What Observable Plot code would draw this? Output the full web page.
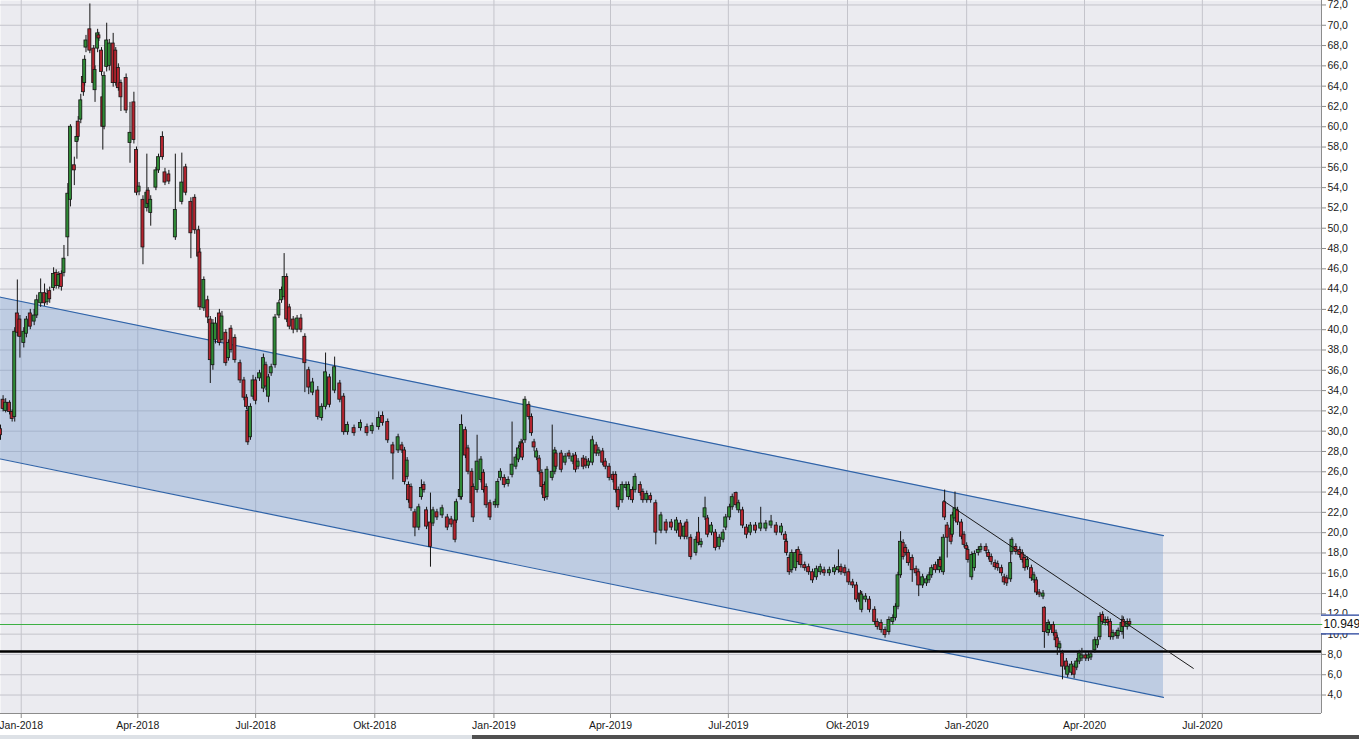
<!DOCTYPE html>
<html><head><meta charset="utf-8">
<script src="https://cdn.jsdelivr.net/npm/d3@7"></script>
<script src="https://cdn.jsdelivr.net/npm/@observablehq/plot@0.6"></script>
<style>
html,body{margin:0;padding:0;background:#fff;overflow:hidden}
#chart svg{display:block}
.scroll{display:flex;height:4px;width:1359px}
.scroll .track{width:472px;background:#dde1e6}
.scroll .thumb{flex:1;background:#505050}
</style></head><body>
<div id="chart"></div>
<div class="scroll"><div class="track"></div><div class="thumb"></div></div>
<script>
// [day offset from 2018-01-01, open, high, low, close]
const ohlc2018q1 = [
[-16,30.2,30.6,29.1,29.6],[-14,33.1,33.5,31.9,32.2],[-12,32.0,33.2,31.8,32.8],[-9,32.8,33.0,31.6,31.9],
[-7,31.9,32.1,30.9,31.2],[-5,31.4,40.2,30.9,39.8],[-3,41.6,44.9,39.3,39.7],[-1,41.0,41.4,37.2,39.3],
[2,38.7,40.2,38.2,39.8],[4,39.6,41.3,39.2,41.0],[7,41.6,42.0,40.0,40.3],[10,40.8,42.0,40.4,41.4],
[12,41.4,43.4,41.1,42.9],[15,42.6,45.0,42.2,43.6],[18,43.6,44.5,42.3,42.6],[20,42.7,44.0,42.4,43.5],
[22,43.8,44.2,42.6,43.0],[25,44.1,46.1,43.8,45.5],[27,45.6,45.9,44.0,44.3],[29,44.3,45.7,44.0,45.4],
[31,45.5,45.8,43.8,44.2],[33,45.6,48.3,45.2,47.0],[36,49.1,54.4,47.2,53.4],[38,52.8,60.2,52.1,60.0],
[41,56.2,57.0,54.2,55.7],[43,58.5,60.3,56.8,59.0],[44,60.5,61.0,58.6,59.0],[46,60.7,63.2,60.3,62.6],
[48,64.9,65.2,63.0,63.4],[49,64.3,67.0,64.0,66.6],[50,67.8,69.0,67.3,68.5],[53,69.6,72.1,67.2,67.5],
[56,67.7,68.0,63.9,64.3],[57,63.6,66.0,62.4,65.6],[59,67.7,69.6,67.3,69.2],[60,69.0,69.3,68.4,68.7],
[62,67.5,67.8,65.0,65.4],[63,62.9,63.3,57.7,60.0],[64,60.0,65.4,59.7,65.0],[66,65.9,70.2,65.4,68.5],
[68,66.0,68.6,65.5,68.2],[71,68.2,69.2,63.9,64.3],[73,67.5,67.8,64.0,64.3],[75,65.8,66.2,63.5,63.8],
[77,64.3,64.6,61.5,62.9],[81,64.8,65.2,61.3,61.6],[84,58.4,62.4,56.4,59.4],[87,62.4,63.4,58.3,58.7],
[89,57.7,58.0,53.2,53.5]
];
const ohlc2018q2 = [
[91,53.6,54.5,53.2,54.1],[94,52.8,53.2,46.4,48.1],[97,52.0,57.3,51.6,53.5],[98,53.7,54.0,52.0,52.4],
[100,51.5,53.2,50.2,52.8],[104,54.0,56.0,53.7,55.7],[106,55.7,57.3,55.4,57.0],[109,59.0,59.5,56.7,57.0],
[111,55.5,55.9,54.2,54.5],[114,55.3,55.7,54.3,54.6],[119,49.1,57.3,48.8,51.8],[124,52.6,57.4,52.3,54.5],
[127,56.0,56.3,53.2,53.5],[131,52.6,53.0,47.0,49.5],[134,53.0,53.3,49.4,49.8],[137,49.8,50.2,46.8,47.2],
[138,47.6,48.0,41.9,42.2],[141,42.1,45.2,41.8,44.9],[144,42.9,43.3,40.6,41.2],[146,41.0,41.3,34.7,37.0],
[148,36.5,41.0,36.0,40.6],[150,39.0,41.2,38.6,40.6],[153,41.6,42.0,38.4,38.7],[155,39.0,41.8,38.7,41.3],
[158,39.7,40.0,36.4,36.7],[160,37.2,39.0,36.9,38.7],[162,40.1,40.4,37.7,38.0],[165,39.2,39.5,36.7,37.0],
[169,36.7,37.0,34.7,35.0],[172,35.0,35.3,33.0,33.3],[174,33.3,33.6,32.1,32.4],[175,32.0,32.3,28.6,28.9],
[177,29.4,32.7,29.1,32.4],[179,33.4,35.5,33.1,35.0]
];
const ohlc2018q3 = [
[181,35.0,35.3,32.6,33.0],[184,35.2,36.0,34.9,35.7],[187,34.2,37.6,33.8,37.2],[189,36.5,36.8,34.0,34.4],
[191,33.4,35.6,32.8,35.3],[193,35.7,36.6,35.4,36.3],[196,36.5,41.5,36.2,41.2],[199,41.4,42.9,41.1,42.6],
[201,42.9,44.2,42.6,43.9],[203,43.2,47.5,42.9,45.2],[205,45.2,45.5,40.7,41.0],[207,42.2,42.5,40.0,40.3],
[210,41.0,41.3,39.6,40.0],[213,40.0,41.4,39.7,41.1],[216,41.1,41.5,39.7,40.0],[219,39.3,39.6,33.8,36.7],
[222,36.0,36.3,33.6,34.3],[225,33.8,35.2,33.5,34.8],[229,34.0,34.4,31.1,31.4],[232,31.3,32.7,31.0,32.4],
[235,32.4,37.7,32.1,35.8],[238,35.3,35.6,32.3,32.6],[242,34.0,37.3,33.7,36.3],[246,34.7,35.0,32.8,33.1],
[249,33.4,33.7,29.6,29.9],[252,29.9,30.9,29.6,30.6],[257,30.3,30.6,29.5,29.8],[262,30.3,31.1,30.0,30.8],
[267,30.4,30.7,29.5,29.8],[271,30.0,30.8,29.7,30.5]
];
const ohlc2018q4 = [
[276,30.4,31.9,30.1,31.3],[279,31.5,31.9,30.5,30.8],[283,30.9,31.2,28.8,29.1],[287,28.6,28.9,25.2,27.8],
[291,28.1,29.7,27.8,29.4],[294,28.6,28.9,27.8,28.1],[296,28.1,28.4,24.7,25.0],[298,25.5,27.4,25.2,27.1],
[299,24.7,25.0,22.9,23.2],[301,24.5,24.8,22.1,22.4],[304,22.0,22.3,19.6,20.5],[307,20.5,22.8,20.2,22.5],
[309,23.5,25.2,23.2,24.4],[311,24.7,25.0,23.9,24.2],[313,22.2,22.5,20.3,20.6],[316,21.0,23.9,16.6,18.6],
[318,20.9,22.5,20.6,22.2],[321,22.0,22.3,21.2,21.5],[325,21.7,22.7,21.4,22.4],[329,21.5,21.8,20.2,20.5],
[332,21.3,21.6,20.5,20.8],[335,21.2,21.5,19.0,19.3],[336,21.2,23.3,20.9,23.0],[339,23.5,24.5,23.2,24.2],
[340,23.5,31.6,23.2,30.6],[343,30.1,30.4,27.3,27.6],[345,28.3,28.6,25.7,26.0],[348,26.0,26.3,22.6,22.9],
[349,24.5,24.8,21.0,21.5],[352,24.2,29.6,23.9,27.0],[355,25.2,27.5,24.9,27.2],[357,25.9,26.2,23.9,24.2],
[359,24.5,24.8,22.4,22.7],[362,22.9,23.2,21.2,21.5]
];
const ohlc2019q1 = [
[366,22.7,23.3,22.4,23.0],[368,22.7,25.3,22.4,25.0],[370,25.4,26.3,25.1,26.0],[373,25.4,25.7,24.4,24.7],
[376,24.8,25.5,24.5,25.2],[379,25.7,30.9,25.4,26.7],[382,26.5,27.7,26.2,27.4],[384,27.2,28.6,26.9,28.3],
[386,28.4,29.2,28.1,28.9],[387,28.8,29.1,27.1,27.4],[389,29.1,33.4,28.8,33.1],[392,32.6,32.9,31.1,31.4],
[394,31.4,31.7,29.5,29.8],[396,28.9,29.2,28.0,28.4],[398,27.4,28.3,27.1,28.0],[400,27.3,27.6,25.7,26.0],
[402,25.9,26.2,23.7,24.5],[404,24.7,25.0,23.1,23.4],[406,23.5,26.5,23.2,26.2],[410,25.4,30.6,25.1,26.0],
[412,26.0,28.4,25.7,28.1],[413,27.8,28.1,26.2,26.5],[417,27.8,28.1,25.9,26.2],[420,26.9,27.8,26.6,27.5],
[423,27.8,28.1,27.2,27.5],[426,27.0,27.8,26.7,27.5],[428,27.6,27.9,25.9,26.2],[430,26.5,27.3,26.2,27.0],
[434,27.3,27.6,26.2,26.5],[436,27.2,27.5,26.3,26.6],[438,26.6,27.3,26.3,27.0],[441,26.9,29.5,26.6,29.1],
[444,28.6,28.9,27.5,27.8],[446,27.8,28.4,27.5,28.1],[449,28.0,28.3,26.6,26.9],[451,27.0,27.3,26.2,26.5],
[454,26.5,26.8,25.1,25.4]
];
const ohlc2019q2 = [
[457,25.7,26.0,24.9,25.2],[459,25.7,26.0,23.9,24.2],[461,24.2,24.5,22.2,22.5],[464,23.2,25.0,22.9,24.7],
[467,24.4,25.0,24.1,24.7],[469,23.5,25.0,23.2,24.7],[472,24.2,24.5,22.9,23.2],[474,24.2,25.8,23.9,25.5],
[478,24.7,25.0,23.6,23.9],[480,24.0,24.3,22.9,23.2],[483,23.2,24.1,22.9,23.8],[486,23.6,23.9,22.9,23.2],
[490,22.9,23.2,18.8,20.0],[494,20.2,22.0,19.9,21.7],[498,21.0,21.3,19.9,20.2],[502,21.0,21.3,20.2,20.5],
[506,20.2,21.5,19.9,21.2],[509,20.9,21.2,19.3,19.6],[512,19.6,20.9,19.3,20.6],[514,21.0,21.3,19.3,19.6],
[517,19.5,19.8,17.3,17.6],[521,18.0,19.6,17.7,19.3],[523,20.0,21.5,18.7,19.0],[525,18.8,19.4,18.5,19.1],
[528,21.5,23.5,21.2,22.4],[530,21.4,21.7,19.5,19.8],[533,20.0,21.0,19.7,20.7],[536,20.0,20.3,18.2,18.5],
[539,18.6,19.8,18.3,19.5],[542,19.3,20.3,19.0,20.0],[544,20.5,21.8,20.2,21.5]
];
const ohlc2019q3 = [
[547,21.5,22.8,21.2,22.5],[549,22.5,23.8,22.2,23.5],[552,23.9,24.0,22.4,22.7],[554,22.2,23.2,21.9,22.9],
[557,22.2,22.5,20.4,20.7],[560,20.5,20.8,19.4,19.8],[563,20.0,21.0,19.7,20.7],[567,20.7,21.0,19.9,20.2],
[571,20.4,22.5,20.1,20.9],[575,20.4,21.2,20.1,20.9],[579,20.7,21.7,20.4,21.1],[583,20.7,21.0,19.7,20.0],
[587,20.0,20.9,19.7,20.6],[590,19.8,20.1,19.0,19.3],[591,19.1,19.4,17.7,18.0],[593,17.5,17.8,15.8,16.1],
[595,16.3,18.3,16.0,18.0],[598,16.5,18.3,16.2,18.0],[600,18.3,18.6,16.8,17.1],[602,17.8,18.1,16.5,16.8],
[605,16.8,17.1,16.2,16.5],[608,16.6,16.9,15.8,16.1],[611,16.1,16.4,15.0,15.3],[614,15.6,16.7,15.3,16.4],
[617,16.1,16.9,15.8,16.6],[620,16.3,16.6,15.7,16.0],[624,16.0,16.6,15.7,16.3],[628,16.1,16.8,15.8,16.5],
[631,16.3,18.3,16.0,16.6],[633,16.6,16.9,15.8,16.1],[636,16.5,16.8,15.7,16.0]
];
const ohlc2019q4 = [
[639,16.1,16.4,14.8,15.1],[642,15.1,15.4,14.5,14.8],[645,14.8,15.1,13.1,13.4],[648,14.0,14.3,12.9,13.2],
[649,12.4,14.2,12.1,13.9],[652,13.4,14.0,13.1,13.7],[655,13.4,13.7,12.1,12.4],[659,12.4,12.7,10.9,11.2],
[661,11.2,11.5,10.4,10.7],[664,11.1,11.4,10.1,10.4],[667,10.4,10.7,9.6,9.9],[670,10.2,11.7,9.9,11.4],
[673,11.2,11.9,10.9,11.6],[675,11.6,13.0,11.3,12.7],[677,12.7,16.1,12.4,15.8],[679,15.8,20.1,15.5,19.1],
[681,19.0,19.3,17.3,17.6],[683,18.5,18.8,17.7,18.0],[685,18.0,18.3,16.7,17.0],[688,17.5,17.8,15.1,16.3],
[691,16.4,16.7,15.7,16.0],[693,16.1,16.4,13.7,14.8],[696,14.8,15.9,14.5,15.6],[699,15.0,15.7,14.7,15.4],
[701,15.3,16.1,15.0,15.8],[703,15.8,16.8,15.5,16.5],[706,16.8,17.1,16.0,16.3],[709,16.3,17.6,16.0,17.3],
[710,17.3,17.6,16.3,16.6],[712,16.1,19.8,15.8,19.5],[713,23.0,24.2,21.2,21.5],[715,20.7,21.0,17.5,19.5],
[718,20.4,20.7,18.8,19.1],[719,19.8,22.0,19.5,21.7],[721,21.4,24.0,21.1,22.4],[723,22.2,22.5,20.7,21.0],
[726,21.0,21.3,19.3,19.6],[728,19.8,20.1,18.5,18.8]
];
const ohlc2020q1 = [
[730,18.7,19.0,18.1,18.4],[731,18.3,18.6,17.0,17.3],[734,15.6,18.1,15.3,17.8],[736,16.5,18.2,16.2,17.9],
[739,18.0,18.6,17.7,18.3],[741,18.3,18.9,18.0,18.6],[745,18.6,18.9,17.9,18.2],[747,18.0,18.3,17.3,17.6],
[749,17.6,17.9,16.8,17.1],[752,17.0,17.3,16.3,16.6],[754,16.9,17.2,16.2,16.5],[757,16.5,16.8,15.7,16.0],
[759,15.6,15.9,14.8,15.1],[761,15.5,15.8,14.7,15.0],[764,15.4,18.9,15.1,17.0],[765,18.1,19.5,17.8,19.3],
[768,18.6,18.9,17.8,18.1],[771,18.3,18.6,17.5,17.8],[773,18.0,18.3,17.0,17.3],[775,17.5,17.8,16.2,16.5],
[777,16.6,17.6,16.3,17.3],[780,16.5,16.8,15.2,15.5],[782,15.3,16.1,15.0,15.8],[784,15.3,15.6,13.8,14.1],
[786,14.1,14.4,13.6,13.9],[789,13.7,14.3,13.4,14.0],[790,12.6,12.7,8.6,10.2],[793,10.1,11.4,9.8,11.1],
[794,10.4,11.2,10.1,10.9],[797,10.9,11.2,9.8,10.1],[799,10.1,10.4,8.9,9.4],[800,9.6,9.9,7.9,8.7],
[802,8.6,9.3,8.3,9.0],[804,8.1,8.4,5.5,6.8],[807,7.3,7.6,6.2,6.5],[808,6.0,7.1,5.7,6.8],
[811,6.2,7.3,5.9,7.0],[813,6.8,7.1,5.6,6.0],[815,6.7,7.6,6.4,7.3],[817,7.3,8.4,7.0,8.1],
[819,7.6,8.6,7.3,7.9]
];
const ohlc2020q2 = [
[822,7.9,8.2,7.3,7.6],[824,7.6,8.2,7.3,7.9],[826,7.7,8.3,7.4,8.0],[829,8.4,9.7,8.1,9.4],
[831,8.9,9.7,8.6,9.4],[833,9.7,12.1,9.4,11.7],[835,11.9,12.2,10.9,11.2],[837,11.1,11.7,10.8,11.4],
[839,11.4,11.7,10.8,11.1],[841,11.2,11.5,9.4,9.7],[843,9.7,10.4,9.4,10.1],[846,10.1,10.4,9.5,9.8],
[847,9.8,10.6,9.5,10.3],[850,10.2,11.8,9.9,11.1],[851,11.4,11.7,9.5,10.7],[854,10.7,11.5,10.4,11.2],
[856,11.2,11.5,10.7,10.95]
];

const baseDate = "2018-01-01";
const xDomain = ["2017-12-16", "2020-10-01"];
const yDomain = [2.18, 72.44];
const yTicks = [4,6,8,10,12,14,16,18,20,22,24,26,28,30,32,34,36,38,40,42,44,46,48,50,52,54,56,58,60,62,64,66,68,70,72];
const xTickDates = ["2018-01-01","2018-04-01","2018-07-01","2018-10-01","2019-01-01","2019-04-01","2019-07-01","2019-10-01","2020-01-01","2020-04-01","2020-07-01"];
const xTickLabels = ["Jan-2018","Apr-2018","Jul-2018","Okt-2018","Jan-2019","Apr-2019","Jul-2019","Okt-2019","Jan-2020","Apr-2020","Jul-2020"];

// regression channel (start, end)
const channelDates = ["2017-12-16", "2020-06-01"];
const channelUpper = [43.2, 19.7];
const channelLower = [27.26, 3.77];
// down trend line
const trendDates = ["2019-12-14", "2020-06-24"];
const trendValues = [23.14, 6.63];
// horizontal levels
const lastPrice = 10.949;
const lastPriceLabel = "10.949";
const supportLevel = 8.3;

const P = d => new Date(d);
const candles = [...ohlc2018q1, ...ohlc2018q2, ...ohlc2018q3, ...ohlc2018q4,
  ...ohlc2019q1, ...ohlc2019q2, ...ohlc2019q3, ...ohlc2019q4, ...ohlc2020q1, ...ohlc2020q2]
  .map(([day, o, h, l, c]) => ({date: d3.utcDay.offset(P(baseDate), day), open: o, high: h, low: l, close: c}));

const channel = channelDates.map((d, i) => ({date: P(d), lo: channelLower[i], hi: channelUpper[i]}));
const trend = trendDates.map((d, i) => ({date: P(d), v: trendValues[i]}));
const xMin = P(xDomain[0]), xMax = P(xDomain[1]);
const xBeyond = d3.utcDay.offset(xMax, 45);
const labelMap = new Map(xTickDates.map((d, i) => [+P(d), xTickLabels[i]]));
const gridColor = "#c4c4cb";
const axisColor = "#8c8c8c";
const up = "#2f8a36", down = "#b3242f";

const chart = Plot.plot({
  width: 1359, height: 735,
  marginLeft: 0, marginRight: 38, marginTop: 0, marginBottom: 22,
  style: {background: "#ffffff", fontFamily: "'Liberation Sans', Arial, sans-serif", fontSize: "10.5px", color: "#1a1a1a"},
  x: {type: "utc", domain: [xMin, xMax]},
  y: {domain: yDomain},
  marks: [
    Plot.frame({fill: "#ebebf0", stroke: "none"}),
    Plot.gridY(yTicks, {stroke: gridColor, strokeOpacity: 1}),
    Plot.gridX(xTickDates.map(P), {stroke: gridColor, strokeOpacity: 1}),
    Plot.areaY(channel, {x: "date", y1: "lo", y2: "hi", fill: "#7b9dcc", fillOpacity: 0.4}),
    Plot.line(channel, {x: "date", y: "hi", stroke: "#2f63a8", strokeWidth: 1.2}),
    Plot.line(channel, {x: "date", y: "lo", stroke: "#2f63a8", strokeWidth: 1.2}),
    Plot.ruleY([supportLevel], {stroke: "#000", strokeWidth: 2.5}),
    Plot.ruleY([lastPrice], {stroke: "#3cb043", strokeWidth: 1}),
    Plot.ruleX(candles, {x: "date", y1: "low", y2: "high", stroke: "#151515", strokeWidth: 1}),
    Plot.rect(candles, {
      x1: d => d3.utcHour.offset(d.date, -28), x2: d => d3.utcHour.offset(d.date, 28),
      y1: "open", y2: "close",
      fill: d => d.close >= d.open ? up : down,
      stroke: "#151515", strokeWidth: 0.8
    }),
    Plot.line(trend, {x: "date", y: "v", stroke: "#1a1a1a", strokeWidth: 1}),
    Plot.ruleX([xMax], {stroke: axisColor}),
    Plot.ruleY([yDomain[0]], {stroke: axisColor}),
    Plot.axisY(yTicks, {anchor: "right", tickSize: 4, tickPadding: 2, stroke: axisColor,
      tickFormat: d => d.toFixed(1).replace(".", ","), fill: "#1a1a1a"}),
    Plot.axisX(xTickDates.map(P), {anchor: "bottom", tickSize: 5, tickPadding: 3, stroke: axisColor,
      tickFormat: d => labelMap.get(+d), fill: "#1a1a1a"}),
    Plot.rect([lastPrice], {x1: xMax, x2: xBeyond, y1: d => d - 0.93, y2: d => d + 0.93, fill: "#ffffff"}),
    Plot.ruleY([lastPrice - 0.93, lastPrice + 0.93], {x1: xMax, x2: xBeyond, stroke: "#1f3c99", strokeWidth: 1.2}),
    Plot.ruleY([lastPrice], {x1: xMax, x2: d3.utcDay.offset(xMax, 1), stroke: "#3cb043"}),
    Plot.text([lastPrice], {x: xMax, y: d => d, text: () => lastPriceLabel, dx: 2, textAnchor: "start",
      fontSize: 12, fill: "#111"})
  ]
});
document.getElementById("chart").appendChild(chart);
</script></body></html>
